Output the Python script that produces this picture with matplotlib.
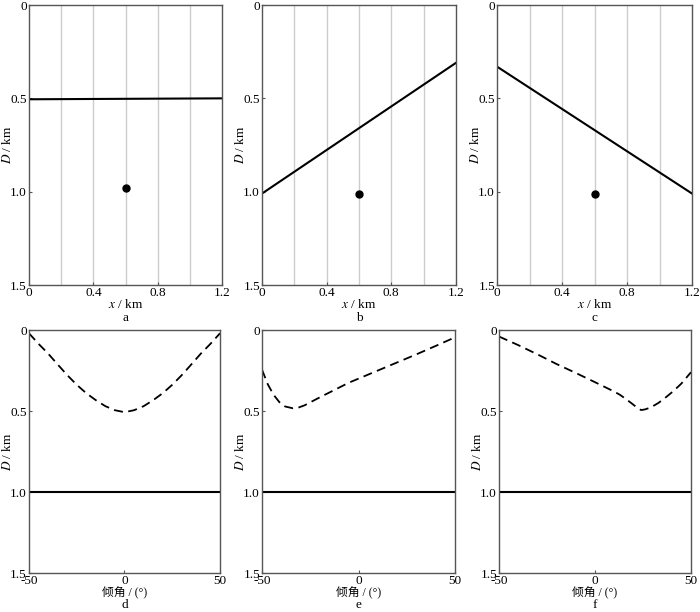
import numpy as np
import matplotlib
matplotlib.use("Agg")
import matplotlib.pyplot as plt

plt.rcParams['font.family'] = ['Liberation Serif', 'Noto Sans CJK SC']
plt.rcParams['mathtext.fontset'] = 'stix'
plt.rcParams['font.size'] = 9.5
plt.rcParams['axes.unicode_minus'] = False

# top row: model sections (x in km, depth in km)
grid_x = [0.2, 0.4, 0.6, 0.8, 1.0]
layer_x = [0.0, 1.2]
layer_a = [0.505, 0.50]
layer_b = [1.01, 0.31]
layer_c = [0.33, 1.01]
point_a = (0.6, 0.98)
point_b = (0.6, 1.01)
point_c = (0.6, 1.01)

# bottom row: depth vs dip angle
dip_d = [-50, -45, -40, -35, -30, -25, -20, -15, -10, -5, 0,
         5, 10, 15, 20, 25, 30, 35, 40, 45, 50]
dep_d = [0.02, 0.085, 0.145, 0.212, 0.278, 0.338, 0.39, 0.433, 0.47, 0.495, 0.507,
         0.495, 0.47, 0.433, 0.39, 0.338, 0.278, 0.212, 0.145, 0.085, 0.02]
dip_e = [-50, -47, -44, -41, -38, -34, -31, -28, -24, -20, -15, -10,
         -5, 0, 10, 20, 30, 40, 50]
dep_e = [0.245, 0.335, 0.40, 0.445, 0.472, 0.483, 0.478, 0.465, 0.44, 0.415,
         0.385, 0.355, 0.325, 0.30, 0.25, 0.20, 0.15, 0.098, 0.045]
dip_f = [-50, -40, -30, -20, -10, 0, 10, 13, 16, 19, 22, 24, 26, 29, 33, 37,
         41, 45, 50]
dep_f = [0.04, 0.093, 0.15, 0.21, 0.265, 0.322, 0.38, 0.40, 0.425, 0.452, 0.48,
         0.494, 0.49, 0.478, 0.45, 0.414, 0.375, 0.33, 0.26]
flat_dip = [-50, 50]
flat_dep = [1.0, 1.0]

spine_col = '#555555'


def style(ax, wpx):
    for s in ax.spines.values():
        s.set_color(spine_col)
        s.set_linewidth(1.0)
    ax.tick_params(direction='in', length=2, width=0.8, color=spine_col, pad=1.5)
    ax.set_ylim(1.5, 0)
    ax.set_yticks([0, 0.5, 1.0, 1.5])
    ax.set_yticklabels(['0', '0.5', '1.0', '1.5'])
    ax.set_ylabel('$D$ / km')
    ax.yaxis.set_label_coords(-15.0 / wpx, 0.5)


fig = plt.figure(figsize=(7, 6.12), dpi=100)
top_rects = [[0.0414, 0.5343, 0.276, 0.4575],
             [0.3743, 0.5343, 0.277, 0.4575],
             [0.7100, 0.5343, 0.2786, 0.4575]]
bot_rects = [[0.0414, 0.0637, 0.2729, 0.397],
             [0.3743, 0.0637, 0.2757, 0.397],
             [0.7129, 0.0637, 0.2743, 0.397]]

tops = [(layer_a, point_a, 'a'), (layer_b, point_b, 'b'), (layer_c, point_c, 'c')]
for rect, (lay, pt, lab) in zip(top_rects, tops):
    ax = fig.add_axes(rect)
    style(ax, rect[2] * 700)
    for gx in grid_x:
        ax.axvline(gx, color='#cccccc', lw=1.0, zorder=0)
    ax.plot(layer_x, lay, color='black', lw=1.5)
    ax.plot(pt[0], pt[1], 'o', color='black', ms=5)
    ax.set_xlim(0, 1.2)
    ax.set_xticks([0, 0.4, 0.8, 1.2])
    ax.set_xticklabels(['0', '0.4', '0.8', '1.2'])
    ax.set_xlabel('$x$ / km')
    ax.xaxis.set_label_coords(0.5, -0.047)
    fig.text(rect[0] + rect[2] / 2, 1 - 318 / 612, lab, ha='center', va='center')

bots = [(dip_d, dep_d, 'd'), (dip_e, dep_e, 'e'), (dip_f, dep_f, 'f')]
for rect, (dx, dy, lab) in zip(bot_rects, bots):
    ax = fig.add_axes(rect)
    style(ax, rect[2] * 700)
    ax.plot(dx, dy, color='black', lw=1.3, dashes=(5, 3))
    ax.plot(flat_dip, flat_dep, color='black', lw=1.5)
    ax.set_xlim(-50, 50)
    ax.set_xticks([-50, 0, 50])
    ax.set_xticklabels(['-50', '0', '50'])
    ax.set_xlabel('倾角 / (°)', fontsize=8.5)
    ax.xaxis.set_label_coords(0.5, -0.058)
    fig.text(rect[0] + rect[2] / 2, 1 - 605 / 612, lab, ha='center', va='center')

fig.savefig('out.png', dpi=100)
